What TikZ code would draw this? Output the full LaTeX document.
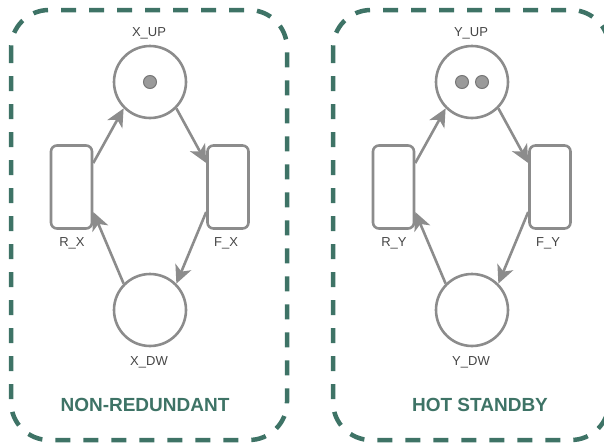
\documentclass[tikz,border=0pt]{standalone}
\usepackage{fontspec}
\setmainfont{Liberation Sans}
\usetikzlibrary{arrows.meta}
\definecolor{boxgreen}{HTML}{3E7366}
\definecolor{netgray}{HTML}{8C8C8C}
\definecolor{tokgray}{HTML}{9A9A9A}
\definecolor{labelgray}{HTML}{454545}
\begin{document}
\begin{tikzpicture}[x=1pt,y=-1pt,
  place/.style={circle, draw=netgray, line width=2.6pt, minimum size=72pt, inner sep=0pt},
  trans/.style={rectangle, rounded corners=6pt, draw=netgray, line width=2.6pt,
                minimum width=41pt, minimum height=83pt, inner sep=0pt},
  flow/.style={draw=netgray, line width=2.6pt,
               -{Stealth[length=18pt,width=17pt,inset=5pt]}},
  token/.style={circle, fill=tokgray, draw=netgray!85!black, line width=1pt,
                minimum size=13pt, inner sep=0pt},
  lbl/.style={font=\fontsize{13}{13}\selectfont, text=labelgray, inner sep=0pt},
  title/.style={font=\bfseries\fontsize{19}{19}\selectfont, text=boxgreen, inner sep=0pt},
  frame/.style={draw=boxgreen, line width=4.5pt, dash pattern=on 15pt off 13pt,
                rounded corners=38pt}]
\useasboundingbox (0,0) rectangle (604,445);
\clip (0,0) rectangle (604,445);

% ---- non-redundant component ----
\draw[frame] (11,10) rectangle (287,440);
\node[place] (xup) at (150,82) {};
\node[token] (xtok) at (150,82) {};
\node[place] (xdw) at (150,310) {};
\node[trans] (rx) at (71.5,187) {};
\node[trans] (fx) at (228,187) {};
\node[lbl] (xupl) at (149,33) {X\_UP};
\node[lbl] (xdwl) at (149,362) {X\_DW};
\node[lbl] (rxl) at (72,243) {R\_X};
\node[lbl] (fxl) at (226,243) {F\_X};
\node[title] (ttl1) at (145,405) {NON-REDUNDANT};
\draw[flow] ([yshift=24pt]rx.east) -- (xup.225);
\draw[flow] (xup.-45) -- ([yshift=24pt]fx.west);
\draw[flow] ([yshift=-25pt]fx.west) -- (xdw.45);
\draw[flow] (xdw.135) -- ([yshift=-25pt]rx.east);

% ---- hot standby component ----
\draw[frame] (333,10) rectangle (609,440);
\node[place] (yup) at (472,82) {};
\node[token] (ytok1) at (462,82) {};
\node[token] (ytok2) at (482,82) {};
\node[place] (ydw) at (472,310) {};
\node[trans] (ry) at (393.5,187) {};
\node[trans] (fy) at (550,187) {};
\node[lbl] (yupl) at (471,33) {Y\_UP};
\node[lbl] (ydwl) at (471,362) {Y\_DW};
\node[lbl] (ryl) at (394,243) {R\_Y};
\node[lbl] (fyl) at (548,243) {F\_Y};
\node[title] (ttl2) at (480,405) {HOT STANDBY};
\draw[flow] ([yshift=24pt]ry.east) -- (yup.225);
\draw[flow] (yup.-45) -- ([yshift=24pt]fy.west);
\draw[flow] ([yshift=-25pt]fy.west) -- (ydw.45);
\draw[flow] (ydw.135) -- ([yshift=-25pt]ry.east);
\end{tikzpicture}
\end{document}
